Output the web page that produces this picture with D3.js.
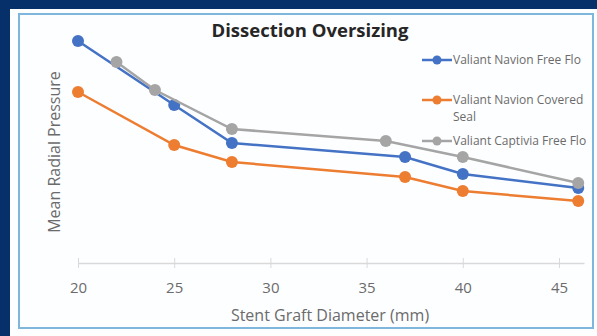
<!DOCTYPE html>
<html>
<head>
<meta charset="utf-8">
<script src="https://cdn.jsdelivr.net/npm/d3@7"></script>
<style>
  html, body { margin: 0; padding: 0; background: #06306a; }
  svg { display: block; }
</style>
</head>
<body>
<div id="chart"></div>
<script>
// Données (unités arbitraires, pas de graduations Y)
const seriesNames = ['Valiant Navion Free Flo', 'Valiant Navion Covered Seal', 'Valiant Captivia Free Flo']
const navionFreeX   = [20, 25, 28, 37, 40, 46]
const navionFreeY   = [11.1, 7.9, 6.0, 5.3, 4.45, 3.75]
const navionSealX   = [20, 25, 28, 37, 40, 46]
const navionSealY   = [8.55, 5.9, 5.05, 4.3, 3.6, 3.1]
const captiviaX     = [22, 24, 28, 36, 40, 46]
const captiviaY     = [10.05, 8.65, 6.7, 6.1, 5.3, 4.0]
const xTicks        = [20, 25, 30, 35, 40, 45]

const COLORS = {
  bg:     '#06306a',
  panel:  '#fdfeff',
  frame:  '#7fb6dc',
  text:   '#6b6b6b',
  title:  '#262626',
  axis:   '#d9d9d9',
  series: ['#4472c4', '#ed7d31', '#a5a5a5'],
}
const FONT = "'Open Sans', sans-serif"

const width = 597, height = 336

const svg = d3.select('#chart')
  .append('svg')
  .attr('width', width)
  .attr('height', height)

// Fond bleu foncé + panneau blanc
svg.append('rect').attr('width', width).attr('height', height).attr('fill', COLORS.bg)
svg.append('rect')
  .attr('x', 10).attr('y', 9)
  .attr('width', width - 10).attr('height', height - 9)
  .attr('fill', COLORS.panel)

// Cadre bleu clair
svg.append('rect')
  .attr('x', 19).attr('y', 14)
  .attr('width', 574).attr('height', 314)
  .attr('fill', 'none')
  .attr('stroke', COLORS.frame)
  .attr('stroke-width', 2)

// Échelles
const x = d3.scaleLinear().domain([20, 46.3]).range([78, 584])
const y = d3.scaleLinear().domain([0, 12]).range([263, 23])

// Titre
svg.append('text')
  .attr('x', 310).attr('y', 37)
  .attr('text-anchor', 'middle')
  .attr('font-family', FONT)
  .attr('font-weight', 'bold')
  .attr('font-size', 18.5)
  .attr('fill', COLORS.title)
  .text('Dissection Oversizing')

// Axe X
const axisG = svg.append('g')
  .attr('transform', `translate(0,${y(0)})`)
  .call(d3.axisBottom(x).tickValues(xTicks).tickSize(5).tickSizeOuter(0).tickPadding(14))
axisG.select('.domain').attr('stroke', COLORS.axis).attr('stroke-width', 1.5)
axisG.selectAll('.tick line')
  .attr('stroke', COLORS.axis)
  .attr('y1', -5).attr('y2', 5)
axisG.selectAll('.tick text')
  .attr('fill', COLORS.text)
  .attr('font-family', FONT)
  .attr('font-size', 15)

// Titre axe X
svg.append('text')
  .attr('x', 330).attr('y', 321)
  .attr('text-anchor', 'middle')
  .attr('font-family', FONT)
  .attr('font-size', 16)
  .attr('fill', COLORS.text)
  .text('Stent Graft Diameter (mm)')

// Titre axe Y
svg.append('text')
  .attr('transform', 'rotate(-90)')
  .attr('x', -152).attr('y', 60)
  .attr('text-anchor', 'middle')
  .attr('font-family', FONT)
  .attr('font-size', 16)
  .attr('fill', COLORS.text)
  .text('Mean Radial Pressure')

// Séries
const series = [
  { name: seriesNames[0], xs: navionFreeX, ys: navionFreeY, color: COLORS.series[0] },
  { name: seriesNames[1], xs: navionSealX, ys: navionSealY, color: COLORS.series[1] },
  { name: seriesNames[2], xs: captiviaX,   ys: captiviaY,   color: COLORS.series[2] },
]

const line = d3.line().x(d => x(d[0])).y(d => y(d[1]))

// ordre de dessin : orange, bleu, gris (le gris passe au-dessus)
for (const s of [series[1], series[0], series[2]]) {
  const pts = s.xs.map((v, i) => [v, s.ys[i]])
  svg.append('path')
    .datum(pts)
    .attr('d', line)
    .attr('fill', 'none')
    .attr('stroke', s.color)
    .attr('stroke-width', 2.5)
  svg.selectAll(null)
    .data(pts)
    .join('circle')
    .attr('cx', d => x(d[0]))
    .attr('cy', d => y(d[1]))
    .attr('r', 6)
    .attr('fill', s.color)
}

// Légende
const legendRows = [
  { s: series[0], y: 60, lines: ['Valiant Navion Free Flo'] },
  { s: series[1], y: 100, lines: ['Valiant Navion Covered', 'Seal'] },
  { s: series[2], y: 141, lines: ['Valiant Captivia Free Flo'] },
]
for (const r of legendRows) {
  const g = svg.append('g').attr('transform', `translate(422,${r.y})`)
  g.append('line')
    .attr('x1', 0).attr('x2', 30)
    .attr('stroke', r.s.color).attr('stroke-width', 2.5)
  g.append('circle').attr('cx', 15).attr('r', 4.5).attr('fill', r.s.color)
  r.lines.forEach((t, i) => {
    g.append('text')
      .attr('x', 31).attr('y', 4 + i * 17)
      .attr('font-family', FONT)
      .attr('font-size', 12)
      .attr('fill', COLORS.text)
      .text(t)
  })
}
</script>
</body>
</html>
